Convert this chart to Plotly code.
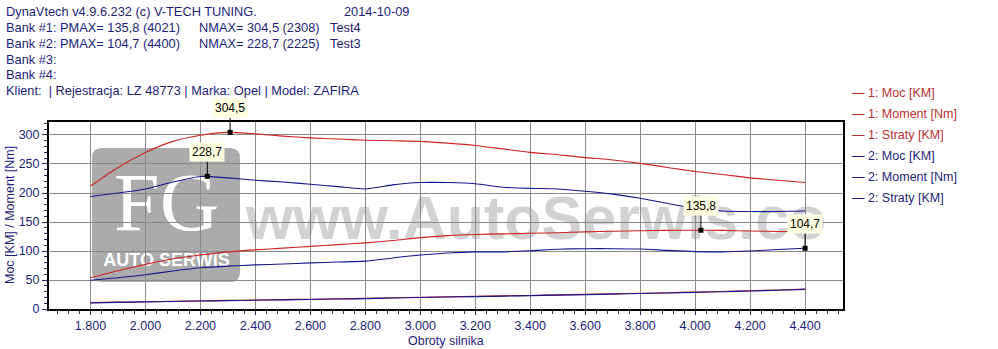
import plotly.graph_objects as go

# ---------------- data ----------------
rpm = [1800, 1900, 2000, 2100, 2200, 2300, 2400, 2500, 2600, 2700, 2800, 2900, 3000,
       3100, 3200, 3300, 3400, 3500, 3600, 3700, 3800, 3900, 4000, 4100, 4200, 4300, 4400]

moc1 = [54, 66, 77, 86.5, 93, 98.5, 102, 105, 108, 111, 114, 118, 123,
        126.5, 128.5, 129.5, 130.5, 131.5, 133, 134, 135, 135.5, 135.8, 135.5, 134.5, 133.5, 133]
moment1 = [212, 244, 270, 289, 299.5, 304.5, 302, 298, 295, 293, 291, 290, 289,
           286, 282, 276, 270, 266, 261, 257, 251, 244, 237, 232, 226, 222, 218]
straty1 = [11, 11.8, 12.6, 13.4, 14.1, 14.8, 15.5, 16.2, 16.9, 17.6, 18.3, 19.3, 20.3,
           21, 21.8, 22.6, 23.4, 24.3, 25.2, 26.1, 27.1, 28.1, 29.1, 30.2, 31.4, 32.7, 34.3]

moc2 = [49.5, 54, 59, 65.5, 71, 74, 76, 77.5, 79.5, 81, 82.5, 88, 93,
        96.5, 98.5, 98.5, 100.5, 103, 104, 104, 103.5, 101, 99, 98.5, 100, 102.5, 104.7]
moment2 = [194, 200, 207, 219, 228.5, 226, 222, 219, 215, 211, 207, 214, 218,
           218, 216, 210, 208, 207, 203, 198, 191, 182, 174, 169, 168, 168, 169]
straty2 = [10.6, 11.4, 12.2, 13, 13.7, 14.4, 15.1, 15.8, 16.5, 17.2, 17.9, 18.9, 19.9,
           20.6, 21.4, 22.2, 23, 23.9, 24.8, 25.7, 26.7, 27.7, 28.7, 29.8, 31, 32.3, 33.9]

series_names = ["1: Moc [KM]", "1: Moment [Nm]", "1: Straty [KM]",
                "2: Moc [KM]", "2: Moment [Nm]", "2: Straty [KM]"]

peak_rpm = [2308, 2225, 4021, 4400]
peak_val = [304.5, 228.7, 135.8, 104.7]
peak_lbl = ["304,5", "228,7", "135,8", "104,7"]

x_ticks = [1800, 2000, 2200, 2400, 2600, 2800, 3000, 3200, 3400, 3600, 3800, 4000, 4200, 4400]
x_tick_labels = ["1.800", "2.000", "2.200", "2.400", "2.600", "2.800", "3.000", "3.200",
                 "3.400", "3.600", "3.800", "4.000", "4.200", "4.400"]
y_ticks = [0, 50, 100, 150, 200, 250, 300]

header_lines = [
    ["DynaVtech v4.9.6.232 (c) V-TECH TUNING.", "2014-10-09"],
    ["Bank #1: PMAX= 135,8 (4021)", "NMAX= 304,5 (2308)", "Test4"],
    ["Bank #2: PMAX= 104,7 (4400)", "NMAX= 228,7 (2225)", "Test3"],
    ["Bank #3:"],
    ["Bank #4:"],
    ["Klient:  | Rejestracja: LZ 48773 | Marka: Opel | Model: ZAFIRA"],
]

# ---------------- style ----------------
FW, FH = 998, 349
L, R, T, B = 49, 155, 122, 40
PW, PH = FW - L - R, FH - T - B
RED = "#cc2222"
BLUE = "#16168f"
NAVY = "#1e1e78"
FONT = "Liberation Sans, Arial, sans-serif"


def px(x):
    return (x - L) / PW


def py(y):
    return (FH - B - y) / PH


series = [moc1, moment1, straty1, moc2, moment2, straty2]
colors = [RED, RED, RED, BLUE, BLUE, BLUE]

fig = go.Figure()
for name, vals, col in zip(series_names, series, colors):
    fig.add_trace(go.Scatter(x=rpm, y=vals, mode="lines", name=name,
                             line=dict(color=col, width=1.1, shape="spline", smoothing=0.6),
                             showlegend=False))

fig.add_trace(go.Scatter(x=peak_rpm, y=peak_val, mode="markers", showlegend=False,
                         marker=dict(symbol="square", size=5, color="black")))

annotations = []
for xr, yv, lbl in zip(peak_rpm, peak_val, peak_lbl):
    annotations.append(dict(x=xr, y=yv, xref="x", yref="y", text=lbl, showarrow=True,
                            arrowhead=0, arrowwidth=1, arrowcolor="black", ax=0, ay=-24,
                            bgcolor="#ffffe1", borderpad=2,
                            font=dict(family=FONT, size=12, color="black")))

# header
header_x = [[5, 343], [5, 198, 329], [5, 198, 329], [5], [5], [5]]
for i, (parts, xs) in enumerate(zip(header_lines, header_x)):
    yc = 11.7 + i * 15.8
    for txt, x0 in zip(parts, xs):
        annotations.append(dict(x=px(x0), y=py(yc), xref="paper", yref="paper", text=txt,
                                showarrow=False, xanchor="left", yanchor="middle",
                                borderpad=0,
                                font=dict(family=FONT, size=12.8, color=NAVY)))

# legend (manual)
for i, (name, col) in enumerate(zip(series_names, colors)):
    annotations.append(dict(x=px(851), y=py(93 + i * 20.9), xref="paper", yref="paper",
                            text="\u2014 " + name, showarrow=False, xanchor="left",
                            yanchor="middle", borderpad=0,
                            font=dict(family=FONT, size=12.5,
                                      color="#b83030" if col == RED else NAVY)))

# axis titles
annotations.append(dict(x=px(446), y=py(341), xref="paper", yref="paper",
                        text="Obroty silnika", showarrow=False, xanchor="center",
                        yanchor="middle", font=dict(family=FONT, size=12.5, color=NAVY)))
annotations.append(dict(x=px(10), y=py(215), xref="paper", yref="paper",
                        text="Moc [KM] / Moment [Nm]", showarrow=False, textangle=-90,
                        xanchor="center", yanchor="middle",
                        font=dict(family=FONT, size=12.5, color=NAVY)))

# watermark shapes (below grid)
r = 10
x0, x1, y0, y1 = 92, 240, 148, 282
path = (f"M {px(x0 + r)},{py(y0)} L {px(x1 - r)},{py(y0)} Q {px(x1)},{py(y0)} {px(x1)},{py(y0 + r)} "
        f"L {px(x1)},{py(y1 - r)} Q {px(x1)},{py(y1)} {px(x1 - r)},{py(y1)} "
        f"L {px(x0 + r)},{py(y1)} Q {px(x0)},{py(y1)} {px(x0)},{py(y1 - r)} "
        f"L {px(x0)},{py(y0 + r)} Q {px(x0)},{py(y0)} {px(x0 + r)},{py(y0)} Z")
shapes = [
    dict(type="path", path=path, xref="paper", yref="paper", layer="below",
         fillcolor="#ababab", line=dict(width=0)),
    dict(type="rect", xref="paper", yref="paper", layer="below",
         x0=px(95), x1=px(238), y0=py(235), y1=py(152), line=dict(width=0),
         fillcolor="rgba(0,0,0,0)",
         label=dict(text="FG", textposition="middle center",
                    font=dict(family="Liberation Serif, DejaVu Serif, serif", size=82,
                              color="white"))),
    dict(type="rect", xref="paper", yref="paper", layer="below",
         x0=px(95), x1=px(238), y0=py(275), y1=py(240), line=dict(width=0),
         fillcolor="rgba(0,0,0,0)",
         label=dict(text="<b>AUTO SERWIS</b>", textposition="middle center",
                    font=dict(family="Liberation Sans, Arial, sans-serif",
                              size=18, color="white"))),
    dict(type="rect", xref="paper", yref="paper", layer="below",
         x0=px(236), x1=px(836), y0=py(252), y1=py(172), line=dict(width=0),
         fillcolor="rgba(0,0,0,0)",
         label=dict(text="<b>www.AutoSerwis.co</b>", textposition="middle center",
                    font=dict(family="Liberation Sans, Arial, sans-serif",
                              size=61, color="#d2d2d2"))),
]

fig.update_layout(
    width=FW, height=FH,
    margin=dict(l=L, r=R, t=T, b=B, pad=0),
    paper_bgcolor="white", plot_bgcolor="white",
    font=dict(family=FONT, size=12, color=NAVY),
    showlegend=False,
    annotations=annotations,
    shapes=shapes,
    xaxis=dict(range=[1649, 4538], tickvals=x_ticks, ticktext=x_tick_labels,
               showgrid=True, gridcolor="#8a8a8a", gridwidth=1, zeroline=False,
               showline=True, linecolor="black", linewidth=2, mirror=True,
               ticks="outside", ticklen=4, tickcolor="#303060",
               minor=dict(ticks="outside", ticklen=3, dtick=40, tick0=1800,
                          tickcolor="#303060", showgrid=False),
               tickfont=dict(family=FONT, size=12.5, color=NAVY)),
    yaxis=dict(range=[0, 322.4], tickvals=y_ticks,
               showgrid=True, gridcolor="#8a8a8a", gridwidth=1, zeroline=False,
               showline=True, linecolor="black", linewidth=2, mirror=True,
               ticks="outside", ticklen=5, tickcolor="#303060",
               minor=dict(ticks="outside", ticklen=3, dtick=10, tick0=0,
                          tickcolor="#303060", showgrid=False),
               tickfont=dict(family=FONT, size=12.5, color=NAVY)),
)

fig.write_html("out.html")
